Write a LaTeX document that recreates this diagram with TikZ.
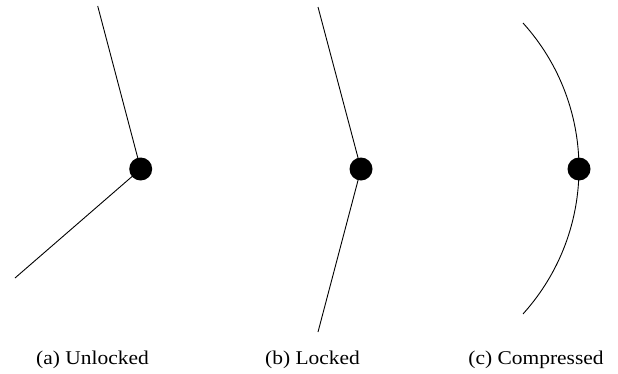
\documentclass[tikz,border=0pt]{standalone}
\usepackage{fontspec}
\setmainfont{Liberation Serif}
\begin{document}
\begin{tikzpicture}[x=1pt,y=1pt,
  link/.style={line width=0.9pt},
  joint/.style={circle,fill=black,inner sep=0pt,minimum size=23pt},
  captext/.style={anchor=base,font=\fontsize{19.5}{22}\selectfont,inner sep=0pt,xscale=1.1}]
\useasboundingbox (0,0) rectangle (618,373);
% (a) Unlocked
\coordinate (a1) at (97.7,367);
\node[joint] (ja) at (140.7,204) {};
\coordinate (a2) at (15,95);
\draw[link] (a1) -- (ja.center) -- (a2);
% (b) Locked
\coordinate (b1) at (318,366);
\node[joint] (jb) at (361,204) {};
\coordinate (b2) at (318,41);
\draw[link] (b1) -- (jb.center) -- (b2);
% (c) Compressed
\coordinate (c1) at (523,350);
\node[joint] (jc) at (579,204) {};
\draw[link] (c1) arc[start angle=42.1, end angle=-42.1, radius=217];
% captions
\node[captext] (ta) at (92.5,9) {(a) Unlocked};
\node[captext] (tb) at (312.5,9) {(b) Locked};
\node[captext] (tc) at (536,9) {(c) Compressed};
\end{tikzpicture}
\end{document}
